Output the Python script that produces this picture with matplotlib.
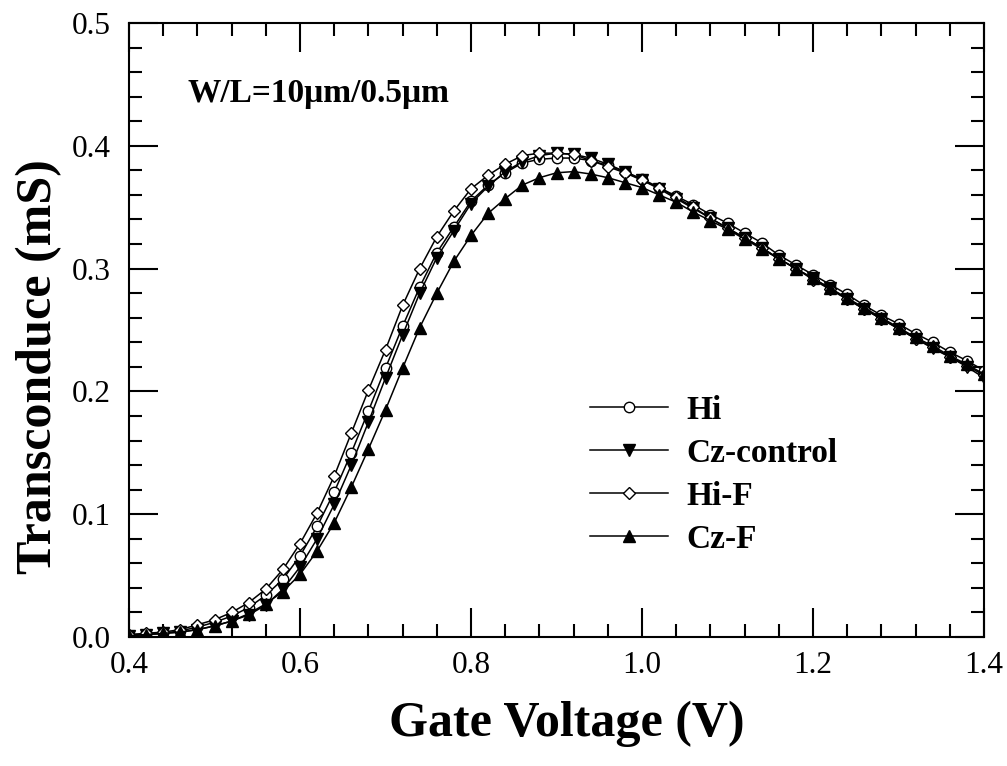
import matplotlib
matplotlib.use("Agg")
import matplotlib.pyplot as plt
from matplotlib.ticker import MultipleLocator

plt.rcParams['font.family'] = ['Liberation Serif', 'DejaVu Serif']

# gate voltage sweep (V)
vg = [0.40, 0.42, 0.44, 0.46, 0.48, 0.50, 0.52, 0.54, 0.56, 0.58,
      0.60, 0.62, 0.64, 0.66, 0.68, 0.70, 0.72, 0.74, 0.76, 0.78,
      0.80, 0.82, 0.84, 0.86, 0.88, 0.90, 0.92, 0.94, 0.96, 0.98,
      1.00, 1.02, 1.04, 1.06, 1.08, 1.10, 1.12, 1.14, 1.16, 1.18,
      1.20, 1.22, 1.24, 1.26, 1.28, 1.30, 1.32, 1.34, 1.36, 1.38, 1.40]

# transconductance (mS)
gm_hi = [0.002, 0.002, 0.003, 0.005, 0.008, 0.012, 0.017, 0.024, 0.034, 0.047,
         0.066, 0.090, 0.118, 0.150, 0.184, 0.219, 0.253, 0.285, 0.313, 0.334,
         0.355, 0.368, 0.378, 0.386, 0.389, 0.390, 0.390, 0.388, 0.384, 0.379,
         0.373, 0.366, 0.359, 0.352, 0.344, 0.337, 0.329, 0.321, 0.311, 0.303,
         0.295, 0.287, 0.279, 0.270, 0.262, 0.255, 0.247, 0.240, 0.232, 0.225, 0.217]

gm_cz = [0.001, 0.002, 0.003, 0.004, 0.006, 0.009, 0.013, 0.018, 0.026, 0.039,
         0.057, 0.080, 0.108, 0.140, 0.175, 0.211, 0.246, 0.280, 0.309, 0.331,
         0.353, 0.367, 0.379, 0.387, 0.392, 0.394, 0.393, 0.390, 0.385, 0.379,
         0.372, 0.365, 0.357, 0.349, 0.341, 0.333, 0.325, 0.317, 0.308, 0.300,
         0.292, 0.284, 0.275, 0.267, 0.259, 0.251, 0.243, 0.235, 0.228, 0.220, 0.211]

gm_hi_f = [0.002, 0.003, 0.004, 0.006, 0.010, 0.014, 0.020, 0.028, 0.039, 0.055,
           0.076, 0.101, 0.131, 0.166, 0.201, 0.234, 0.270, 0.300, 0.326, 0.347,
           0.365, 0.376, 0.385, 0.392, 0.394, 0.394, 0.393, 0.388, 0.383, 0.378,
           0.372, 0.366, 0.358, 0.350, 0.341, 0.333, 0.325, 0.317, 0.308, 0.300,
           0.291, 0.283, 0.275, 0.267, 0.259, 0.251, 0.243, 0.236, 0.228, 0.221, 0.213]

gm_cz_f = [0.001, 0.002, 0.003, 0.004, 0.006, 0.009, 0.013, 0.019, 0.027, 0.037,
           0.051, 0.070, 0.093, 0.122, 0.153, 0.185, 0.219, 0.252, 0.280, 0.306,
           0.327, 0.345, 0.357, 0.368, 0.374, 0.378, 0.379, 0.377, 0.374, 0.370,
           0.366, 0.360, 0.354, 0.346, 0.339, 0.332, 0.324, 0.316, 0.308, 0.300,
           0.292, 0.284, 0.276, 0.268, 0.260, 0.252, 0.244, 0.237, 0.229, 0.222, 0.214]

fig = plt.figure(figsize=(10.07, 7.66), dpi=100)
ax = fig.add_axes([0.1281, 0.1684, 0.8491, 0.8016])

ax.plot(vg, gm_hi, '-o', color='black', mfc='white', mec='black', ms=7.5, mew=1.0, lw=1.1, label='Hi')
ax.plot(vg, gm_cz, '-v', color='black', mfc='black', mec='black', ms=8, mew=1.0, lw=1.1, label='Cz-control')
ax.plot(vg, gm_hi_f, '-D', color='black', mfc='white', mec='black', ms=6.5, mew=1.0, lw=1.1, label='Hi-F')
ax.plot(vg, gm_cz_f, '-^', color='black', mfc='black', mec='black', ms=8, mew=1.0, lw=1.1, label='Cz-F')

ax.set_xlim(0.4, 1.4)
ax.set_ylim(0.0, 0.5)
ax.xaxis.set_major_locator(MultipleLocator(0.2))
ax.xaxis.set_minor_locator(MultipleLocator(0.04))
ax.yaxis.set_major_locator(MultipleLocator(0.1))
ax.yaxis.set_minor_locator(MultipleLocator(0.02))
ax.xaxis.set_major_formatter(matplotlib.ticker.FormatStrFormatter('%.1f'))
ax.yaxis.set_major_formatter(matplotlib.ticker.FormatStrFormatter('%.1f'))

ax.tick_params(which='both', direction='in', top=True, right=True, width=1.5, labelsize=22.5)
ax.tick_params(which='major', length=21)
ax.tick_params(which='minor', length=9.5)
ax.tick_params(axis='x', which='major', pad=10)
ax.tick_params(axis='y', which='major', pad=13)
for sp in ax.spines.values():
    sp.set_linewidth(1.5)

ax.set_xlabel('Gate Voltage (V)', fontsize=36, fontweight='bold')
ax.set_ylabel('Transconduce (mS)', fontsize=36, fontweight='bold')
ax.xaxis.set_label_coords(0.512, -0.103)
ax.yaxis.set_label_coords(-0.078, 0.44)

ax.text(0.069, 0.871, 'W/L=10μm/0.5μm', transform=ax.transAxes,
        fontsize=24, fontweight='bold', va='baseline', ha='left')

ax.legend(loc='upper left', bbox_to_anchor=(590 / 1007, 1 - 395 / 766),
          bbox_transform=fig.transFigure, frameon=False, borderpad=0,
          borderaxespad=0, handlelength=2.35, handletextpad=0.55,
          labelspacing=0.36, prop={'size': 24, 'weight': 'bold'})

fig.savefig('out.png', dpi=100)
